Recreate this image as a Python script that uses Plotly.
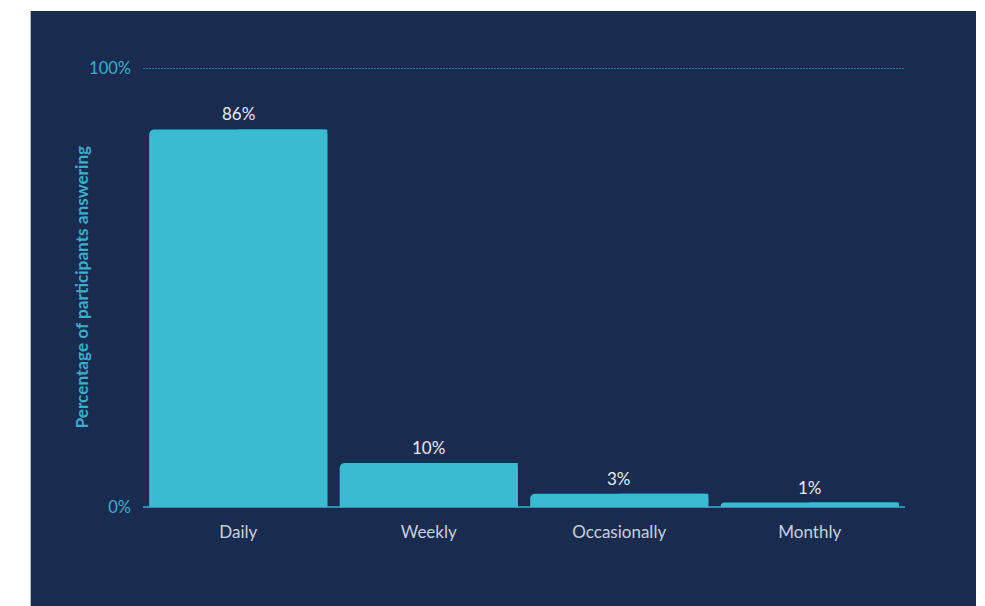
import plotly.graph_objects as go

categories = ["Daily", "Weekly", "Occasionally", "Monthly"]
values = [86, 10, 3, 1]
value_labels = ["86%", "10%", "3%", "1%"]
tick_values = [0, 100]
tick_labels = ["0%", "100%"]
y_title = "Percentage of participants answering"

NAVY = "#1a2b50"
CYAN = "#3bbbd1"
TICK = "#3aaecb"

W, H = 985, 606
ML, MR, MT, MB = 143, 80, 68, 99
PW, PH = W - ML - MR, H - MT - MB
BAR_W = 0.935  # bar width in category units

def px_x(p):
    return (p - ML) / PW

def px_y(p):
    return (H - MB - p) / PH

fig = go.Figure()
# rounded bar, then a square right half on top so only the top-left corner is rounded
fig.add_trace(go.Bar(
    x=categories, y=values, width=BAR_W, offset=-BAR_W / 2,
    marker=dict(color=CYAN, line=dict(width=0), cornerradius=5),
    hoverinfo="skip",
))
fig.add_trace(go.Bar(
    x=categories, y=values, width=BAR_W / 2, offset=0,
    marker=dict(color=CYAN, line=dict(width=0)),
    hoverinfo="skip",
))

for c, v, t in zip(categories, values, value_labels):
    fig.add_annotation(x=c, y=v, text=t, showarrow=False, yanchor="bottom",
                       yshift=3, font=dict(family="Lato", size=17, color="#e6ebf2"))

# axis title placed next to the tick labels
fig.add_annotation(xref="paper", yref="paper", x=px_x(81), y=0.5,
                   text="<b>" + y_title + "</b>", textangle=-90, showarrow=False,
                   xanchor="center", yanchor="middle",
                   font=dict(family="Lato", size=17.2, color=TICK))

# dark panel behind the plot
fig.add_shape(type="rect", xref="paper", yref="paper", layer="below",
              x0=px_x(31), x1=px_x(976), y0=px_y(607), y1=px_y(11),
              fillcolor=NAVY, line=dict(width=0))
fig.add_shape(type="line", xref="paper", yref="paper", layer="below",
              x0=px_x(30.5), x1=px_x(30.5), y0=px_y(607), y1=px_y(11),
              line=dict(color="#b8bcc4", width=1))

# dotted reference line at the top tick
fig.add_shape(type="line", xref="paper", yref="y", layer="above",
              x0=0, x1=1, y0=tick_values[-1], y1=tick_values[-1],
              line=dict(color="#3fc3dc", width=1, dash="2px,1px"))

fig.update_layout(
    width=W, height=H,
    margin=dict(l=ML, r=MR, t=MT, b=MB, pad=0),
    paper_bgcolor="white", plot_bgcolor="rgba(0,0,0,0)",
    barmode="overlay", showlegend=False,
    font=dict(family="Lato"),
    xaxis=dict(showgrid=False, showline=False, ticks="",
               tickfont=dict(family="Lato", size=17, color="#c9d1dd"),
               ticklabelstandoff=13),
    yaxis=dict(range=[0, 100], tickvals=tick_values, ticktext=tick_labels,
               showgrid=False,
               zeroline=True, zerolinecolor="#2e8fae", zerolinewidth=2,
               showline=False, ticks="",
               tickfont=dict(family="Lato", size=16.5, color=TICK),
               ticklabelstandoff=11),
)

fig.write_html("out.html")
